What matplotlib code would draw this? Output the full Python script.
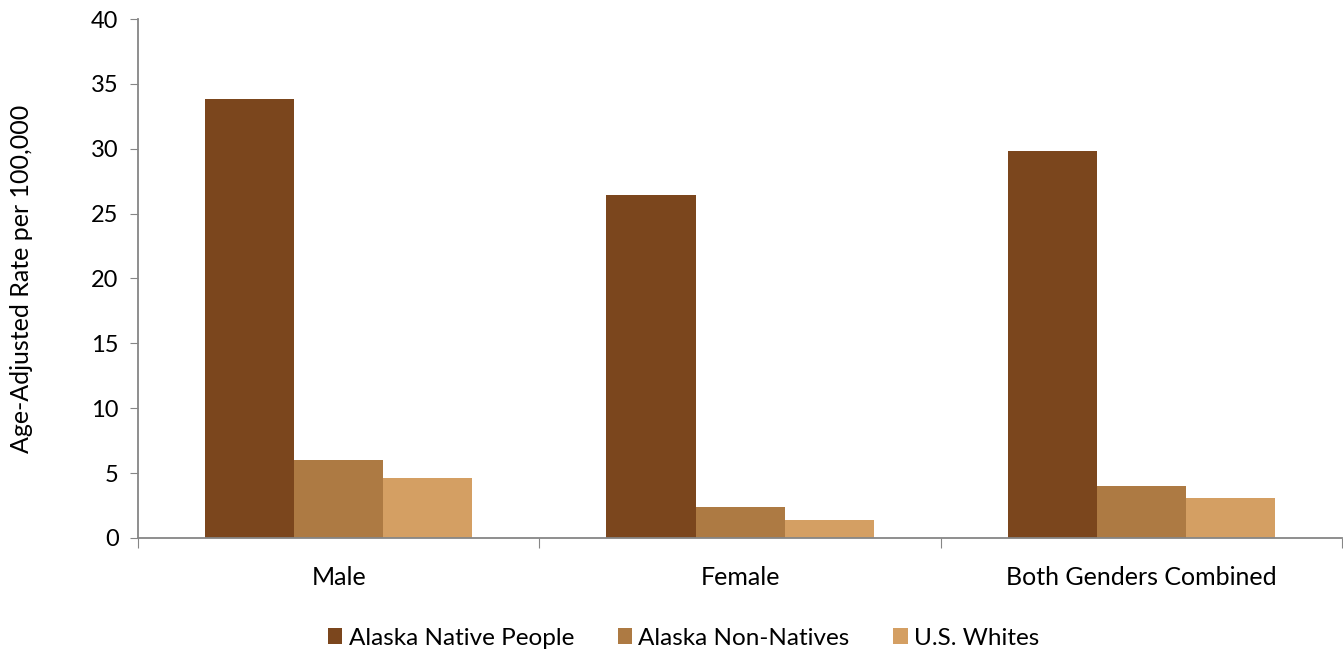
import numpy as np
import matplotlib.pyplot as plt

# data
categories = ['Male', 'Female', 'Both Genders Combined']
series_names = ['Alaska Native People', 'Alaska Non-Natives', 'U.S. Whites']
native = [33.8, 26.4, 29.8]
non_native = [6.0, 2.4, 4.0]
us_whites = [4.6, 1.4, 3.1]
colors = ['#7B461D', '#AD7A43', '#D49F63']
y_ticks = [0, 5, 10, 15, 20, 25, 30, 35, 40]

plt.rcParams['font.family'] = ['Lato', 'DejaVu Sans']

fig = plt.figure(figsize=(13.43, 6.58), dpi=100)
ax = fig.add_axes([0.1028, 0.1824, 0.8965, 0.7887])

x = np.arange(len(categories))
w = 0.222
for i, (vals, name) in enumerate(zip([native, non_native, us_whites], series_names)):
	ax.bar(x + (i - 1) * w, vals, width=w, color=colors[i], label=name,
		edgecolor='none')

ax.set_xlim(-0.5, len(categories) - 0.5)
ax.set_ylim(0, 40)
ax.set_yticks(y_ticks)
ax.tick_params(axis='y', labelsize=17, length=6, color='#868686', pad=8)

# category labels centred, ticks on the boundaries
ax.set_xticks(np.arange(-0.5, len(categories) + 0.5, 1.0))
ax.set_xticklabels([])
ax.set_xticks(x, minor=True)
ax.set_xticklabels(categories, minor=True, fontsize=18)
ax.tick_params(axis='x', which='major', length=7, color='#868686')
ax.tick_params(axis='x', which='minor', length=0, pad=20)

for s in ['top', 'right']:
	ax.spines[s].set_visible(False)
for s in ['left', 'bottom']:
	ax.spines[s].set_color('#868686')
	ax.spines[s].set_linewidth(1.3)

ax.set_ylabel('Age-Adjusted Rate per 100,000', fontsize=18, labelpad=42)

fig.legend(loc='center', bbox_to_anchor=(0.509, 0.03), ncol=3, frameon=False,
	fontsize=17.5, handlelength=0.6, handleheight=0.6, handletextpad=0.25,
	columnspacing=1.8)

plt.savefig('out.png', dpi=100)
